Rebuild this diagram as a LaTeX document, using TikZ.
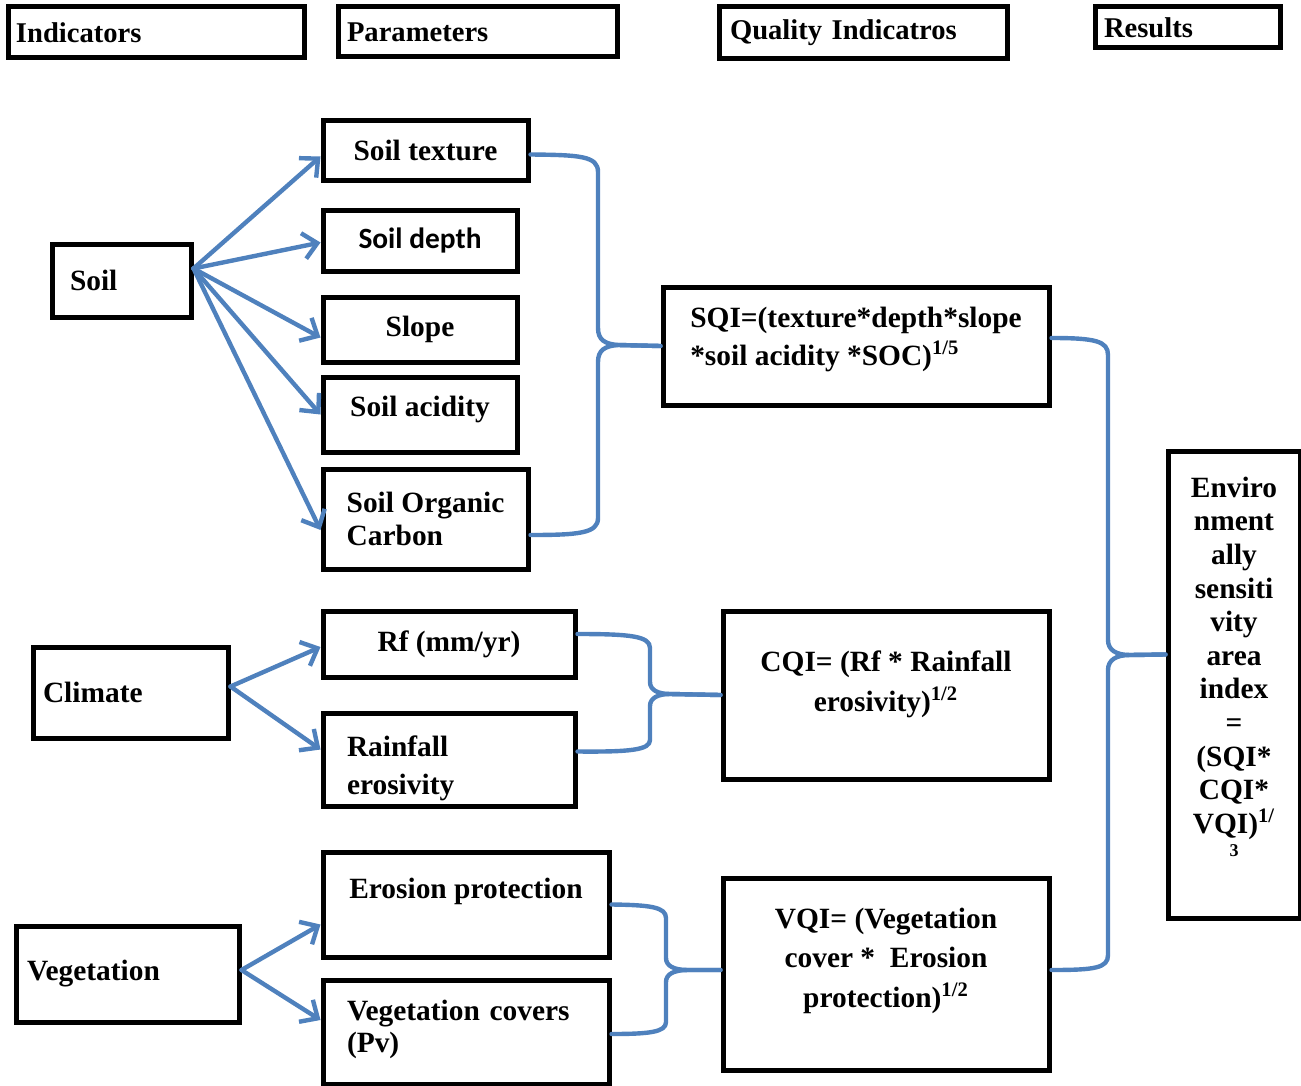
\documentclass[tikz,border=0pt]{standalone}
\usepackage{fontspec}
\setmainfont{Liberation Serif}
\newfontfamily\calibri{Carlito}
\usetikzlibrary{arrows.meta}
\definecolor{linkblue}{HTML}{4F81BD}

\begin{document}
\begin{tikzpicture}[x=0.5pt, y=-0.5pt, font=\bfseries\fontsize{14.7}{19}\selectfont,
  box/.style={draw, line width=2.5pt, inner sep=0pt, align=center},
  hdr/.style={box, align=left, font=\bfseries\fontsize{14.3}{17}\selectfont},
  link/.style={draw=linkblue, line width=2.2pt, line cap=round, line join=round},
  arr/.style={link, -{Straight Barb[length=7pt,width=13pt]}}]
\useasboundingbox (0,0) rectangle (1301,1086);

% column titles
\node[hdr, minimum height=25.5pt, inner xsep=4pt, text width=140pt] (hInd) at (156,32.5) {Indicators};
\node[hdr, minimum height=25pt, inner xsep=4.5pt, text width=130.5pt] (hPar) at (477.5,32) {Parameters};
\node[hdr, minimum height=26pt, inner xsep=5.5pt, text width=133pt] (hQua) at (863,33) {Quality Indicatros};
\node[hdr, minimum height=20.5pt, inner xsep=4.5pt, text width=83.5pt] (hRes) at (1187.5,27.5) {Results};

% indicators
\node[box, align=left, minimum height=36.5pt, inner xsep=9pt, text width=51.5pt] (soil) at (121.5,280.5) {Soil};
\node[box, align=left, minimum height=45.5pt, inner xsep=5pt, text width=87.5pt] (clim) at (130.5,692.5) {Climate};
\node[box, align=left, minimum height=48pt, inner xsep=5.5pt, text width=100.5pt] (veg) at (127.5,974) {Vegetation};

% parameters
\node[box, minimum width=102.5pt, minimum height=29.5pt] (tex) at (425.5,150.5) {Soil texture};
\node[box, minimum width=97pt, minimum height=30.5pt,
  font=\calibri\bfseries\fontsize{14.7}{19}\selectfont] (dep) at (420,240.5) {Soil depth};
\node[box, minimum width=97pt, minimum height=32.5pt] (slo) at (420,329.5) {Slope};
\node[box, minimum width=97pt, minimum height=37.5pt, text depth=8pt] (aci) at (420,414.5) {Soil acidity};
\node[box, align=left, minimum width=102.5pt, minimum height=50pt,
  font=\bfseries\fontsize{14.7}{16.5}\selectfont] (soc) at (425.5,519) {Soil Organic\\Carbon};
\node[box, minimum width=126pt, minimum height=33pt] (rf) at (449,644) {Rf (mm/yr)};
\node[box, align=left, minimum height=46.5pt, inner xsep=12pt, text width=102pt, text depth=13pt] (rain) at (449,759.5) {Rainfall\\erosivity};
\node[box, minimum width=143pt, minimum height=52.5pt, text depth=16.5pt] (ero) at (466,904.5) {Erosion protection};
\node[box, align=left, minimum height=52pt, inner xsep=12pt, text width=119pt, text depth=22pt,
  font=\bfseries\fontsize{14.7}{16}\selectfont] (cov) at (466,1032) {Vegetation covers\\(Pv)};

% quality indices
\node[box, align=left, minimum width=193pt, minimum height=59pt, text depth=10pt] (sqi) at (856,346)
  {SQI=(texture*depth*slope\\*soil acidity *SOC)\textsuperscript{1/5}};
\node[box, minimum width=163pt, minimum height=84pt, text depth=14pt,
  font=\bfseries\fontsize{14.7}{20}\selectfont] (cqi) at (886,695)
  {CQI= (Rf * Rainfall\\erosivity)\textsuperscript{1/2}};
\node[box, minimum width=163pt, minimum height=96pt, text depth=16.5pt,
  font=\bfseries\fontsize{14.7}{19.75}\selectfont] (vqi) at (886,974)
  {VQI= (Vegetation\\cover *~ Erosion\\protection)\textsuperscript{1/2}};

% result
\node[box, minimum width=66pt, minimum height=233.5pt, text depth=18pt,
  font=\bfseries\fontsize{14.7}{16.8}\selectfont] (esa) at (1234,684.5)
  {Enviro\\nment\\ally\\sensiti\\vity\\area\\index\\=\\(SQI*\\CQI*\\VQI)\textsuperscript{1/}\\[-5.3pt]{\fontsize{9}{9}\selectfont 3}};

% arrows
\foreach \t/\s in {tex/-3pt, dep/-1pt, slo/-4pt, aci/0pt, soc/-5.5pt}
  \draw[arr] ([yshift=6pt]soil.east) -- ([yshift=\s]\t.west);
\draw[arr] ([yshift=3pt]clim.east) -- ([yshift=-1.5pt]rf.west);
\draw[arr] ([yshift=3pt]clim.east) -- ([yshift=5pt]rain.west);
\draw[arr] ([yshift=2pt]veg.east) -- ([yshift=-10pt]ero.west);
\draw[arr] ([yshift=2pt]veg.east) -- ([yshift=6pt]cov.west);

% braces
\draw[link] ([yshift=-2pt]tex.east) .. controls (580,155) and (598,156) .. (598,172) -- (598,328)
  .. controls (598,340) and (605,344) .. (618,345) -- (sqi.west);
\draw[link] ([yshift=-8pt]soc.east) .. controls (580,535) and (598,533) .. (598,518) -- (598,362)
  .. controls (598,350) and (605,346) .. (618,345) -- (sqi.west);

\draw[link] ([yshift=5pt]rf.east) .. controls (630,634) and (650,636) .. (650,648) -- (650,682)
  .. controls (650,690) and (658,694) .. (670,694) -- (cqi.west);
\draw[link] ([yshift=4pt]rain.east) .. controls (630,752) and (650,750) .. (650,740) -- (650,706)
  .. controls (650,698) and (658,694) .. (670,694) -- (cqi.west);

\draw[link] (ero.east) .. controls (650,905) and (666,907) .. (666,918) -- (666,958)
  .. controls (666,966) and (674,970) .. (688,970) -- ([yshift=2pt]vqi.west);
\draw[link] ([yshift=-1pt]cov.east) .. controls (650,1034) and (666,1032) .. (666,1022) -- (666,982)
  .. controls (666,974) and (674,970) .. (688,970) -- ([yshift=2pt]vqi.west);

\draw[link] ([yshift=4pt]sqi.east) .. controls (1095,338) and (1108,341) .. (1108,355) -- (1108,640)
  .. controls (1108,650) and (1116,655) .. (1130,655) -- ([yshift=15pt]esa.west);
\draw[link] ([yshift=2pt]vqi.east) .. controls (1095,970) and (1108,968) .. (1108,955) -- (1108,670)
  .. controls (1108,660) and (1116,655) .. (1130,655) -- ([yshift=15pt]esa.west);
\end{tikzpicture}
\end{document}
